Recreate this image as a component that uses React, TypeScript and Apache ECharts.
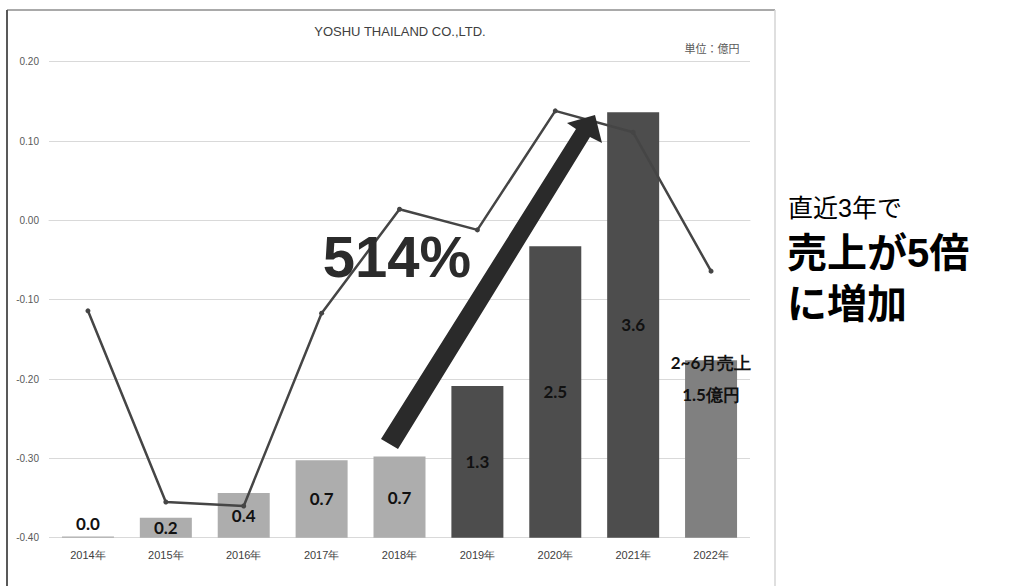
import React, { useEffect, useRef } from "react";
import * as echarts from "echarts";

const categories = ["2014年", "2015年", "2016年", "2017年", "2018年", "2019年", "2020年", "2021年", "2022年"];
// 売上 (億円) - bars
const salesValues = [0.01, 0.17, 0.38, 0.66, 0.69, 1.29, 2.48, 3.62, 1.51];
// line series (left axis)
const profitValues = [-0.114, -0.355, -0.36, -0.117, 0.014, -0.012, 0.138, 0.111, -0.064];
const yTicks = { min: -0.4, max: 0.2, interval: 0.1 };
const barColors = ["#adadad", "#adadad", "#adadad", "#adadad", "#adadad", "#4d4d4d", "#4d4d4d", "#4d4d4d", "#808080"];
const lastLabel = "2~6月売上\n1.5億円";

export default function App() {
  const ref = useRef<HTMLDivElement>(null);
  useEffect(() => {
    if (!ref.current) return;
    const chart = echarts.init(ref.current, null, { renderer: "svg" });
    const labelFont = { fontFamily: "Lato", fontWeight: "bold" as const, fontSize: 17, color: "#111" };
    const barData = salesValues.map((v, i) => {
      const item: any = { value: v, itemStyle: { color: barColors[i] } };
      if (i === 0) item.label = { position: "top", distance: 5 };
      if (i === salesValues.length - 1)
        item.label = { position: "top", distance: 0, offset: [0, 50], lineHeight: 32, formatter: lastLabel, fontSize: 17 };
      return item;
    });
    const sideFont = "'Liberation Sans', 'Noto Sans CJK JP', sans-serif";
    chart.setOption({
      animation: false,
      backgroundColor: "#ffffff",
      grid: { left: 49, right: 286, top: 61.7, bottom: 48.3, containLabel: false },
      xAxis: {
        type: "category",
        data: categories,
        axisLine: { show: true, lineStyle: { color: "#d9d9d9", width: 1 } },
        axisTick: { show: false },
        axisLabel: { color: "#404040", fontSize: 11, fontFamily: "Liberation Sans", margin: 12 },
      },
      yAxis: [
        {
          type: "value",
          min: yTicks.min,
          max: yTicks.max,
          interval: yTicks.interval,
          axisLine: { show: false },
          axisTick: { show: false },
          splitLine: { lineStyle: { color: "#d9d9d9", width: 1 } },
          axisLabel: {
            color: "#595959",
            fontSize: 10,
            fontFamily: "Liberation Sans",
            margin: 10,
            formatter: (v: number) => v.toFixed(2),
          },
        },
        { type: "value", min: 0, max: 4.05, show: false, splitLine: { show: false } },
      ],
      series: [
        {
          type: "bar",
          yAxisIndex: 1,
          data: barData,
          barWidth: 52,
          z: 1,
          label: {
            show: true,
            position: "inside",
            ...labelFont,
            formatter: (p: any) => Number(p.value).toFixed(1),
          },
        },
        {
          type: "line",
          yAxisIndex: 0,
          data: profitValues,
          z: 3,
          symbol: "circle",
          symbolSize: 5,
          lineStyle: { color: "#454545", width: 2.5 },
          itemStyle: { color: "#454545" },
        },
      ],
      graphic: [
        { type: "line", shape: { x1: 7, y1: 10, x2: 7, y2: 586 }, style: { stroke: "#222", lineWidth: 1.5 } },
        { type: "line", shape: { x1: 7, y1: 10, x2: 775, y2: 10 }, style: { stroke: "#555", lineWidth: 1 } },
        { type: "line", shape: { x1: 775, y1: 10, x2: 775, y2: 586 }, style: { stroke: "#d4d4d4", lineWidth: 1.5 } },
        {
          type: "text",
          x: 400,
          y: 31,
          style: { text: "YOSHU THAILAND CO.,LTD.", fill: "#404040", fontSize: 13, fontFamily: "Liberation Sans", align: "center", verticalAlign: "middle" },
        },
        {
          type: "text",
          x: 712,
          y: 48,
          style: { text: "単位：億円", fill: "#595959", fontSize: 11, fontFamily: "Noto Sans CJK JP", align: "center", verticalAlign: "middle" },
        },
        {
          type: "polygon",
          z: 10,
          shape: {
            points: [
              [381, 439],
              [398, 449],
              [590, 137],
              [602, 143],
              [595, 115],
              [567, 123],
              [576, 129],
            ],
          },
          style: { fill: "#2a2a2a" },
        },
        {
          type: "text",
          x: 397,
          y: 256,
          z: 11,
          style: { text: "514%", fill: "#2b2b2b", fontSize: 58, fontWeight: "bold", fontFamily: "Liberation Sans", align: "center", verticalAlign: "middle" },
        },
        {
          type: "text",
          x: 788,
          y: 208,
          style: { text: "直近3年で", fill: "#000", fontSize: 25, lineHeight: 28, fontFamily: sideFont, align: "left", verticalAlign: "middle" },
        },
        {
          type: "text",
          x: 787,
          y: 253,
          style: { text: "売上が5倍", fill: "#000", fontSize: 40, lineHeight: 44, fontWeight: "bold", fontFamily: sideFont, align: "left", verticalAlign: "middle" },
        },
        {
          type: "text",
          x: 787,
          y: 304,
          style: { text: "に増加", fill: "#000", fontSize: 40, lineHeight: 44, fontWeight: "bold", fontFamily: sideFont, align: "left", verticalAlign: "middle" },
        },
      ],
    });
    return () => chart.dispose();
  }, []);
  return <div ref={ref} style={{ position: "fixed", left: 0, top: 0, width: 1036, height: 586 }} />;
}
